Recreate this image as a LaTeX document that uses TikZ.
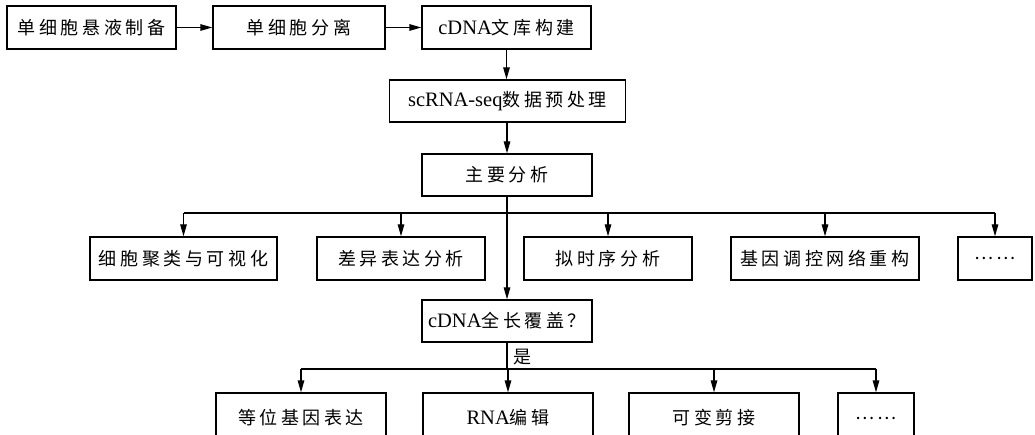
\documentclass[tikz,border=0pt]{standalone}
\usepackage{fontspec}
\setmainfont{Liberation Serif}
\newfontfamily\cjk{Noto Sans CJK SC}[LetterSpace=20]
\usetikzlibrary{arrows.meta}
\tikzset{
  box/.style={draw, line width=1.3pt, inner sep=0pt, font=\fontsize{18}{22}\selectfont},
  conn/.style={line width=1.3pt},
  arr/.style={conn, -{Triangle[length=12pt,width=6.5pt]}},
}
\newcommand{\lt}[1]{{\fontsize{20.5}{22}\selectfont #1}}
\begin{document}
\begin{tikzpicture}[x=1pt,y=-1pt]
\useasboundingbox (0,0) rectangle (1035,435);
\clip (0,0) rectangle (1035,435);
% row 1
\node[box, minimum width=169pt, minimum height=43pt] (b1) at (91.5,27.5) {\cjk 单细胞悬液制备};
\node[box, minimum width=172pt, minimum height=43pt] (b2) at (299,27.5) {\cjk 单细胞分离};
\node[box, minimum width=169pt, minimum height=43pt] (b3) at (506.5,27.5) {\lt{cDNA}\cjk 文库构建};
% row 2
\node[box, minimum width=236pt, minimum height=42pt] (b4) at (507.5,101) {\lt{scRNA-seq}\cjk 数据预处理};
\node[box, minimum width=170pt, minimum height=42pt] (b5) at (507,175) {\cjk 主要分析};
% row 3
\node[box, minimum width=187pt, minimum height=43pt] (c1) at (183.5,258.5) {\cjk 细胞聚类与可视化};
\node[box, minimum width=168pt, minimum height=43pt] (c2) at (401,258.5) {\cjk 差异表达分析};
\node[box, minimum width=168pt, minimum height=43pt] (c3) at (608,258.5) {\cjk 拟时序分析};
\node[box, minimum width=188pt, minimum height=43pt] (c4) at (825,258.5) {\cjk 基因调控网络重构};
\node[box, minimum width=74pt, minimum height=43pt] (c5) at (995,258.5) {\cjk ……};
% decision
\node[box, minimum width=170pt, minimum height=42pt] (b6) at (507,321) {\lt{cDNA}\cjk 全长覆盖？};
% row 4
\node[box, minimum width=170pt, minimum height=50pt] (d1) at (301,418) {\cjk 等位基因表达};
\node[box, minimum width=170pt, minimum height=50pt] (d2) at (508,418) {\lt{RNA}\cjk 编辑};
\node[box, minimum width=170pt, minimum height=50pt] (d3) at (714,418) {\cjk 可变剪接};
\node[box, minimum width=76pt, minimum height=50pt] (d4) at (876,418) {\cjk ……};
% connectors
\coordinate (j1) at (507,213);
\coordinate (j2) at (507,369);
\draw[arr] (b1.east) -- (b2.west);
\draw[arr] (b2.east) -- (b3.west);
\draw[arr] (b3.south) -- (b3.south |- b4.north);
\draw[arr] (b4.south -| b5.south) -- (b5.north);
\draw[arr] (b5.south) -- (b6.north);
\draw[conn] (c1.north |- j1) -- (c5.north |- j1);
\foreach \n in {c1,c2,c3,c4,c5} \draw[arr] (\n.north |- j1) -- (\n.north);
\draw[conn] (b6.south) -- (j2);
\draw[conn] (d1.north |- j2) -- (d4.north |- j2);
\foreach \n in {d1,d2,d3,d4} \draw[arr] (\n.north |- j2) -- (\n.north);
\node[font=\fontsize{18}{22}\selectfont\cjk] (yes) at (522,357) {是};
\end{tikzpicture}
\end{document}
